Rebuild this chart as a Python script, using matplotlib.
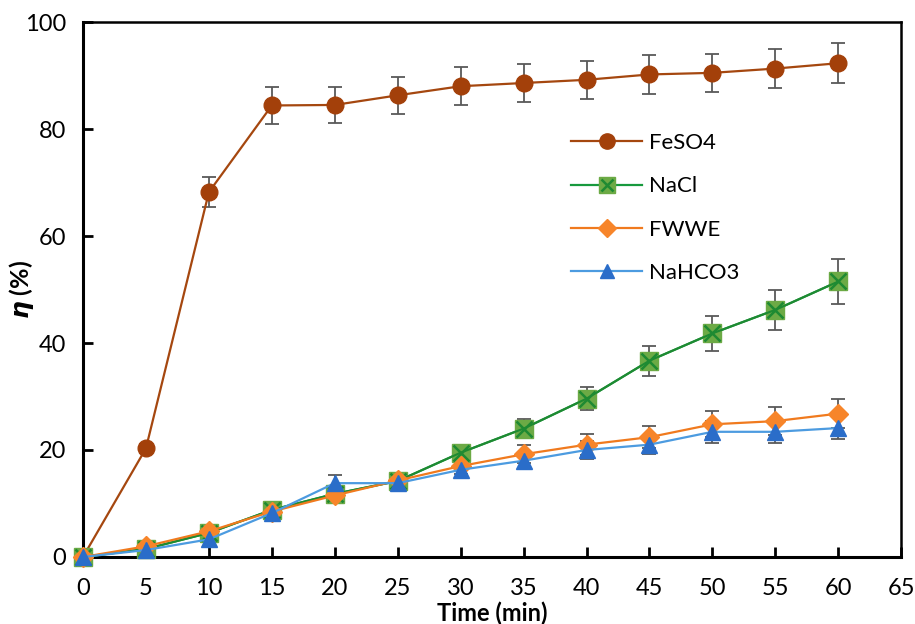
import matplotlib.pyplot as plt
from matplotlib.lines import Line2D

plt.rcParams['font.family'] = ['Lato', 'DejaVu Sans']

# Data
time = [0, 5, 10, 15, 20, 25, 30, 35, 40, 45, 50, 55, 60]
feso4 = [0, 20.3, 68.2, 84.4, 84.5, 86.3, 88.0, 88.6, 89.2, 90.2, 90.5, 91.3, 92.3]
feso4_err = [0, 0.8, 2.8, 3.4, 3.4, 3.4, 3.5, 3.5, 3.6, 3.6, 3.6, 3.6, 3.7]
nacl = [0, 1.5, 4.5, 8.8, 11.8, 14.2, 19.5, 24.0, 29.6, 36.7, 41.8, 46.2, 51.5]
nacl_err = [0, 0.3, 0.5, 0.8, 1.0, 1.2, 1.4, 1.8, 2.2, 2.8, 3.3, 3.7, 4.2]
fwwe = [0, 2.0, 4.8, 8.5, 11.5, 14.3, 17.0, 19.2, 21.0, 22.4, 24.8, 25.4, 26.8]
fwwe_err = [0, 0.3, 0.5, 0.8, 1.0, 1.2, 1.5, 1.7, 1.9, 2.1, 2.4, 2.6, 2.7]
nahco3 = [0, 1.3, 3.3, 8.2, 13.8, 13.8, 16.3, 18.0, 20.0, 21.0, 23.4, 23.4, 24.1]
nahco3_err = [0, 0.3, 0.4, 0.7, 1.5, 1.0, 1.3, 1.5, 1.7, 1.8, 2.0, 2.0, 2.1]

err_color = '#595959'

fig = plt.figure(figsize=(9.15, 6.24), dpi=100)
ax = fig.add_axes([0.0907, 0.1074, 0.8943, 0.8573])

# error bars
for y, e in [(feso4, feso4_err), (nacl, nacl_err), (fwwe, fwwe_err), (nahco3, nahco3_err)]:
    ax.errorbar(time, y, yerr=e, fmt='none', ecolor=err_color, elinewidth=1.3,
                capsize=5, capthick=1.3, zorder=2)

# FeSO4
ax.plot(time, feso4, '-', color='#A5470F', lw=1.6, marker='o', ms=12,
        mfc='#A3400A', mec='#A3400A', zorder=3)
# NaCl
ax.plot(time, nacl, '-', color='#17993D', lw=1.6, marker='s', ms=13,
        mfc='#6CAA45', mec='#6CAA45', zorder=3)
ax.plot(time, nacl, 'none', marker='x', ms=11, mew=1.8, color='#1E8A32', zorder=3.1)
# FWWE
ax.plot(time, fwwe, '-', color='#F07A1E', lw=1.6, marker='D', ms=10,
        mfc='#F7852A', mec='#F7852A', zorder=4)
# NaHCO3
ax.plot(time, nahco3, '-', color='#4C9BE0', lw=1.6, marker='^', ms=11,
        mfc='#2A6DC9', mec='#2A6DC9', zorder=5)

ax.set_xlim(0, 65)
ax.set_ylim(0, 100)
ax.set_xticks(range(0, 66, 5))
ax.set_yticks(range(0, 101, 20))
ax.tick_params(axis='both', direction='in', length=7, width=2, labelsize=17)
ax.tick_params(axis='x', pad=15)
ax.tick_params(axis='y', pad=12)
ax.spines['left'].set_linewidth(2.2)
ax.spines['bottom'].set_linewidth(2.2)
ax.spines['top'].set_linewidth(1.8)
ax.spines['right'].set_linewidth(1.8)
for line in ax.lines:
    line.set_clip_on(False)

ax.set_xlabel('Time (min)', fontsize=17, fontweight='bold')
ax.xaxis.set_label_coords(0.5, -0.083)
ax.set_ylabel(r'$\boldsymbol{\eta}$ (%)', fontsize=18, fontweight='bold')
ax.yaxis.set_label_coords(-0.058, 0.5)

h_fe = Line2D([], [], color='#A5470F', lw=1.6, marker='o', ms=11, mfc='#A3400A', mec='#A3400A')
h_na = (Line2D([], [], color='#17993D', lw=1.6, marker='s', ms=11, mfc='#6CAA45', mec='#6CAA45'),
        Line2D([], [], ls='none', marker='x', ms=9, mew=1.8, color='#1E8A32'))
h_fw = Line2D([], [], color='#F07A1E', lw=1.6, marker='D', ms=9, mfc='#F7852A', mec='#F7852A')
h_nh = Line2D([], [], color='#4C9BE0', lw=1.6, marker='^', ms=10, mfc='#2A6DC9', mec='#2A6DC9')
ax.legend([h_fe, h_na, h_fw, h_nh], ['FeSO4', 'NaCl', 'FWWE', 'NaHCO3'],
          loc='upper left', bbox_to_anchor=(0.572, 0.83), frameon=False,
          fontsize=16, labelspacing=1.05, handlelength=3.2, handletextpad=0.3)

fig.savefig('out.png', dpi=100)
